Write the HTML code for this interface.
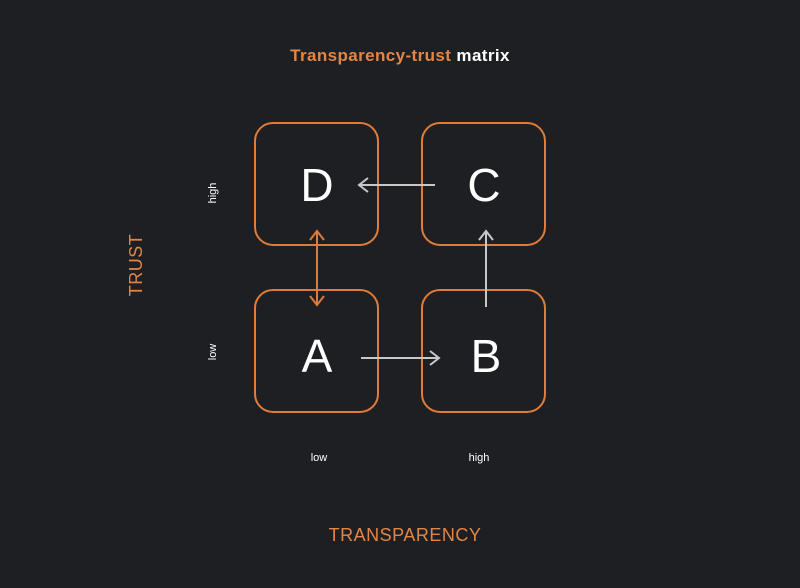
<!DOCTYPE html>
<html><head><style>
html,body{margin:0;padding:0;background:#1e1f22;}
svg{display:block;}
text{font-family:"Liberation Sans",sans-serif;}
</style></head><body>
<svg width="800" height="588" viewBox="0 0 800 588" xmlns="http://www.w3.org/2000/svg">
<rect width="800" height="588" fill="#1e1f22"/>
<text x="400" y="61" text-anchor="middle" font-size="17" font-weight="bold" letter-spacing="0.4"><tspan fill="#e58544">Transparency-trust</tspan><tspan fill="#ffffff"> matrix</tspan></text>
<g fill="none" stroke="#e07b39" stroke-width="2">
<rect x="255" y="123" width="123" height="122" rx="18"/>
<rect x="422" y="123" width="123" height="122" rx="18"/>
<rect x="255" y="290" width="123" height="122" rx="18"/>
<rect x="422" y="290" width="123" height="122" rx="18"/>
</g>
<g fill="#ffffff" font-size="46" text-anchor="middle">
<text x="317" y="201">D</text>
<text x="484" y="201">C</text>
<text x="317" y="372">A</text>
<text x="486" y="372">B</text>
</g>
<g stroke="#c8c8c8" stroke-width="2" fill="none">
<line x1="435" y1="185" x2="359" y2="185"/><polyline points="368,178 359,185 368,192"/>
<line x1="486" y1="307" x2="486" y2="231"/><polyline points="479,240 486,231 493,240"/>
<line x1="361" y1="358" x2="439" y2="358"/><polyline points="430,351 439,358 430,365"/>
</g>
<g stroke="#e07b39" stroke-width="2" fill="none">
<line x1="317" y1="231" x2="317" y2="305"/>
<polyline points="310,240 317,231 324,240"/>
<polyline points="310,296 317,305 324,296"/>
</g>
<g fill="#ffffff" font-size="11" text-anchor="middle">
<text x="319" y="461">low</text>
<text x="479" y="461">high</text>
<text transform="translate(216,193) rotate(-90)">high</text>
<text transform="translate(216,352) rotate(-90)">low</text>
</g>
<text x="405" y="541" text-anchor="middle" fill="#e58544" font-size="18" letter-spacing="0.5">TRANSPARENCY</text>
<text transform="translate(142,265) rotate(-90)" text-anchor="middle" fill="#e58544" font-size="18" letter-spacing="0.5">TRUST</text>
</svg>
</body></html>
